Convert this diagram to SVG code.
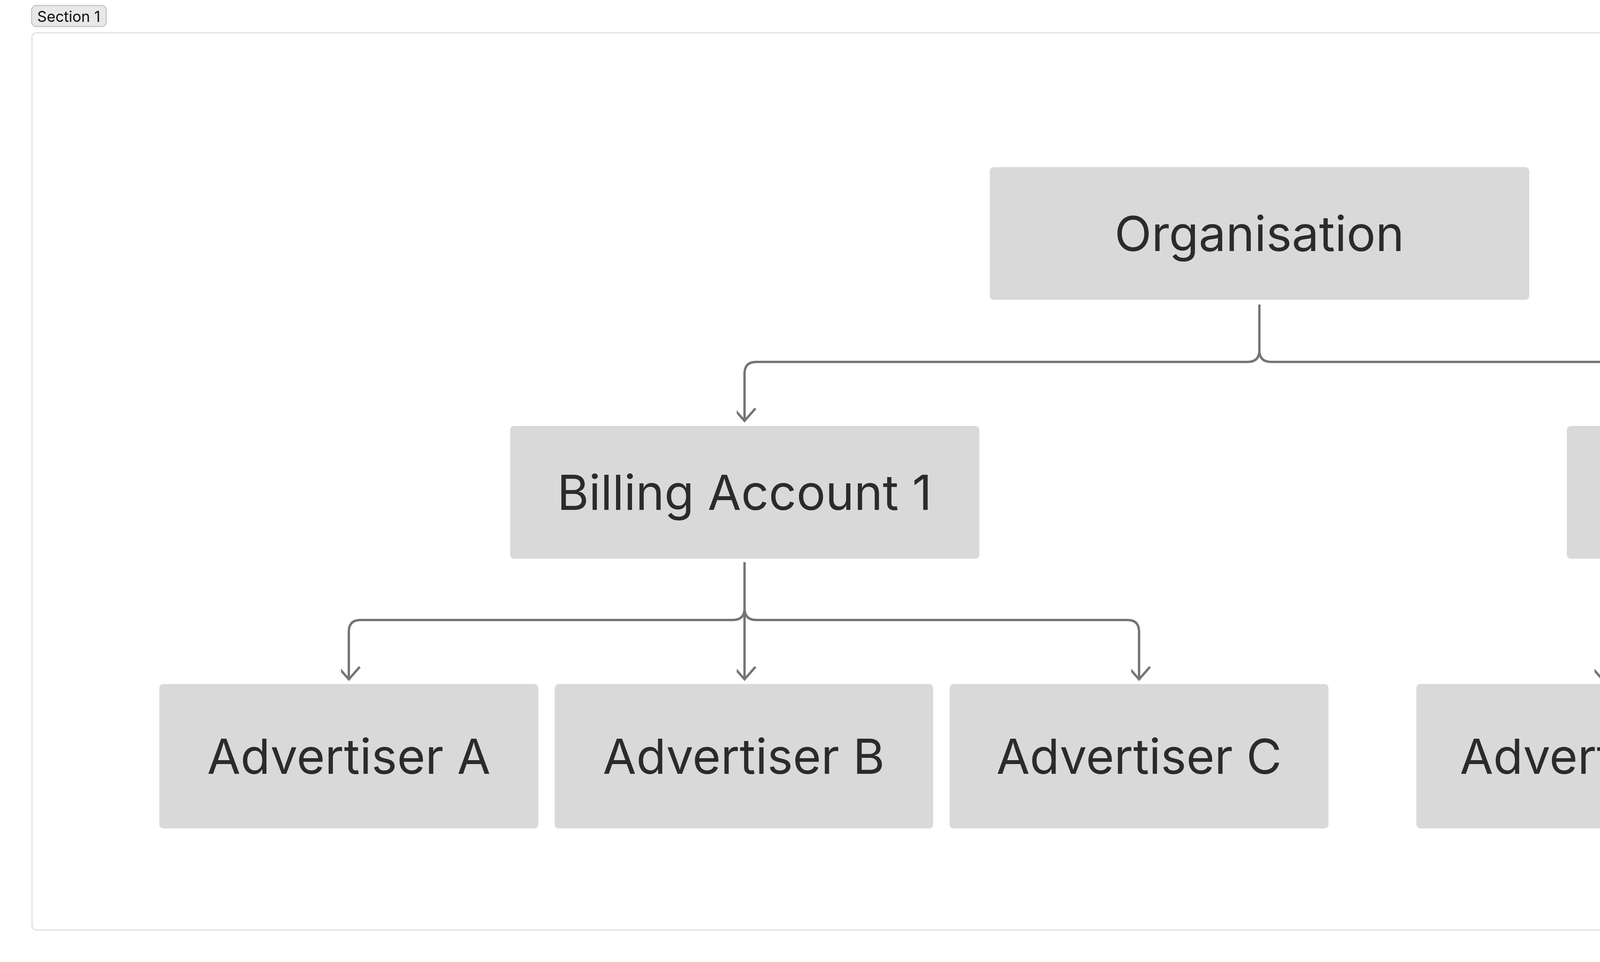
<svg xmlns="http://www.w3.org/2000/svg" width="5984" height="2464" viewBox="0 0 5984 2464">
<style>
.n{fill:#d9d9d9}
.t{font-family:Inter,"Liberation Sans",sans-serif;font-size:124px;fill:#2b2b2b;text-anchor:middle;dominant-baseline:central}
.c{fill:none;stroke:#757575;stroke-width:6;marker-end:url(#a)}
</style>
<defs><marker id="a" markerUnits="userSpaceOnUse" markerWidth="80" markerHeight="80" refX="40" refY="60" orient="auto-start-reverse" viewBox="0 0 80 80"><path d="M12 28 L40 60 L68 28" transform="rotate(-90 40 60)" fill="none" stroke="#757575" stroke-width="6"/></marker></defs>
<rect width="5984" height="2464" fill="#fff"/>
<g id="section">
<rect x="82" y="84" width="5818" height="2298" rx="12" fill="#fff" stroke="#e6e6e6" stroke-width="4"/>
<rect x="81" y="14" width="191" height="54" rx="12" fill="#e8e8e8" stroke="#c8c8c8" stroke-width="3"/>
<text x="176" y="42" font-family="Inter,'Liberation Sans',sans-serif" font-size="38" fill="#111" text-anchor="middle" dominant-baseline="central">Section 1</text>
</g>
<g id="connectors">
<path class="c" d="M3224 780 V897 Q3224 927 3194 927 H1936 Q1906 927 1906 957 V1078"/>
<path class="c" d="M3224 780 V897 Q3224 927 3254 927 H4582 Q4612 927 4612 957 V1078"/>
<path class="c" d="M1906 1440 V1558 Q1906 1588 1876 1588 H923 Q893 1588 893 1618 V1740"/>
<path class="c" d="M1906 1440 V1740"/>
<path class="c" d="M1906 1440 V1558 Q1906 1588 1936 1588 H2886 Q2916 1588 2916 1618 V1740"/>
<path class="c" d="M4612 1440 V1558 Q4612 1588 4582 1588 H4132 Q4102 1588 4102 1618 V1740"/>
<path class="c" d="M4612 1440 V1558 Q4612 1588 4642 1588 H5066 Q5096 1588 5096 1618 V1740"/>
</g>
<g id="org"><rect class="n" x="2534" y="428" width="1381" height="340" rx="10"/><text class="t" x="3224" y="598">Organisation</text></g>
<g id="ba1"><rect class="n" x="1306" y="1091" width="1201" height="340" rx="10"/><text class="t" x="1906" y="1261">Billing Account 1</text></g>
<g id="ba2"><rect class="n" x="4011" y="1091" width="1202" height="340" rx="10"/><text class="t" x="4612" y="1261">Billing Account 2</text></g>
<g id="advA"><rect class="n" x="408" y="1752" width="970" height="370" rx="10"/><text class="t" x="893" y="1937">Advertiser A</text></g>
<g id="advB"><rect class="n" x="1420" y="1752" width="969" height="370" rx="10"/><text class="t" x="1904" y="1937">Advertiser B</text></g>
<g id="advC"><rect class="n" x="2431" y="1752" width="970" height="370" rx="10"/><text class="t" x="2916" y="1937">Advertiser C</text></g>
<g id="advD"><rect class="n" x="3626" y="1752" width="953" height="370" rx="10"/><text class="t" x="4102" y="1937">Advertiser D</text></g>
<g id="advE"><rect class="n" x="4621" y="1752" width="950" height="370" rx="10"/><text class="t" x="5096" y="1937">Advertiser E</text></g>
</svg>
